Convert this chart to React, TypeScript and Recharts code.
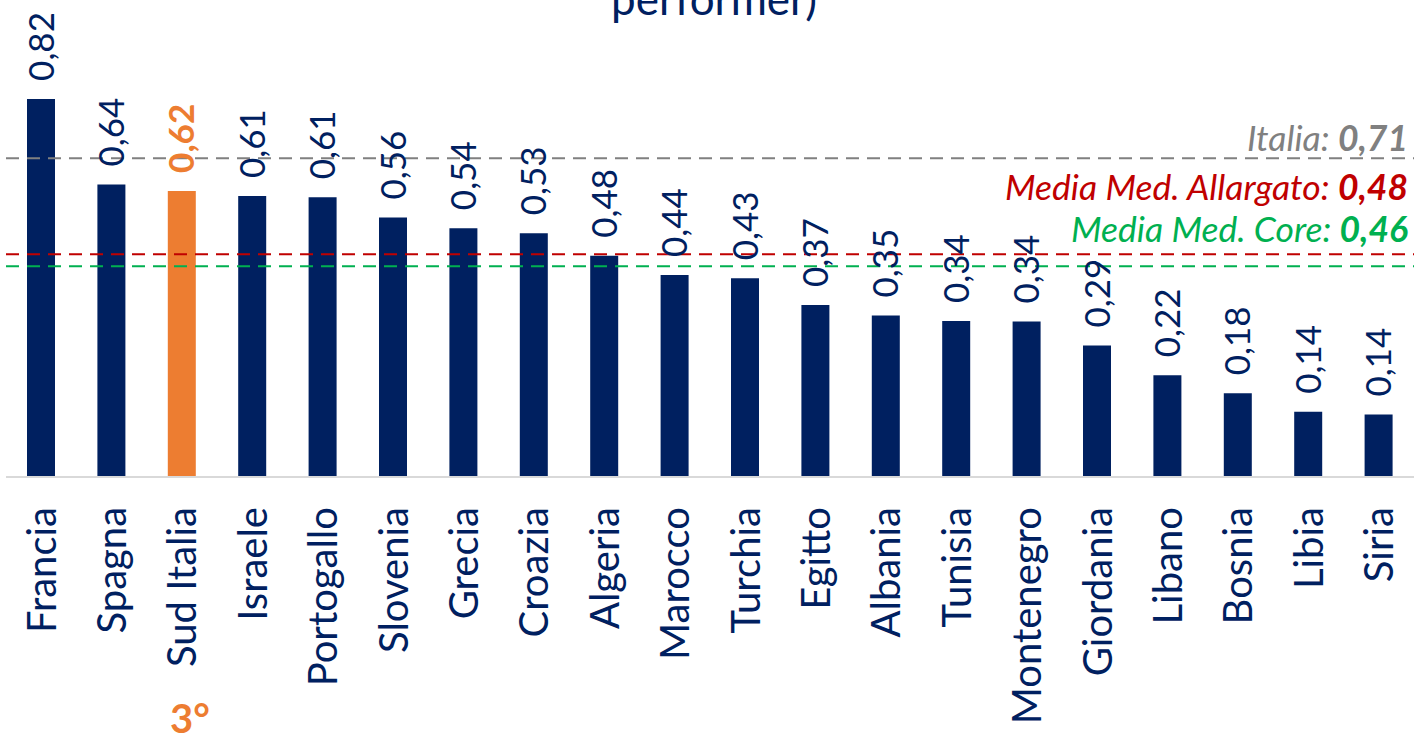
import { Bar, BarChart, Cell, LabelList, ReferenceLine, XAxis, YAxis } from 'recharts';

const categories = [
  'Francia', 'Spagna', 'Sud Italia', 'Israele', 'Portogallo', 'Slovenia', 'Grecia',
  'Croazia', 'Algeria', 'Marocco', 'Turchia', 'Egitto', 'Albania', 'Tunisia',
  'Montenegro', 'Giordania', 'Libano', 'Bosnia', 'Libia', 'Siria',
];
const values = [
  0.822, 0.636, 0.622, 0.611, 0.608, 0.564, 0.541, 0.53, 0.481, 0.439,
  0.432, 0.374, 0.351, 0.339, 0.338, 0.286, 0.221, 0.182, 0.142, 0.136,
];

// reference lines: where the line sits, and the value printed in its label
const refNames = ['Italia', 'Media Med. Allargato', 'Media Med. Core'];
const refValues = [0.693, 0.484, 0.458];
const refLabels = ['0,71', '0,48', '0,46'];

const highlight = 'Sud Italia';
const highlightRank = '3°';

const NAVY = '#002060';
const ORANGE = '#ed7d31';
const REF_COLORS = ['#808080', '#c00000', '#00b050'];
const REF_LABEL_DY = [-7, -54, -24];
const FONT = 'Lato, "Open Sans", sans-serif';

const data = categories.map((name, i) => ({ name, value: values[i] }));

const fmt = (v: number) => v.toFixed(2).replace('.', ',');

function CategoryTick(props: any) {
  const { x, y, payload } = props;
  const ty = y + 30;
  const isHi = payload.value === highlight;
  return (
    <g>
      <text
        x={x}
        y={ty}
        transform={`rotate(-90, ${x}, ${ty})`}
        textAnchor="end"
        dy="0.36em"
        fill={NAVY}
        fontSize={40}
        fontFamily={FONT}
      >
        {payload.value}
      </text>
      {isHi && (
        <text x={x + 8} y={733} textAnchor="middle" fill={ORANGE} fontSize={40} fontWeight={700} fontFamily={FONT}>
          {highlightRank}
        </text>
      )}
    </g>
  );
}

function ValueLabel(props: any) {
  const { x, y, width, value, index } = props;
  const cx = x + width / 2;
  const ty = y - 18;
  const isHi = categories[index] === highlight;
  return (
    <text
      x={cx}
      y={ty}
      transform={`rotate(-90, ${cx}, ${ty})`}
      textAnchor="start"
      dy="0.36em"
      fill={isHi ? ORANGE : NAVY}
      fontWeight={isHi ? 700 : 400}
      fontSize={35}
      fontFamily={FONT}
    >
      {fmt(value)}
    </text>
  );
}

function refLabel(i: number) {
  return (props: any) => {
    const { viewBox } = props;
    const right = viewBox.x + viewBox.width - 6;
    return (
      <text
        x={right}
        y={viewBox.y + REF_LABEL_DY[i]}
        textAnchor="end"
        fill={REF_COLORS[i]}
        fontSize={35.5}
        fontStyle="italic"
        fontFamily={FONT}
      >
        {refNames[i]}:{' '}
        <tspan fontWeight={700}>{refLabels[i]}</tspan>
      </text>
    );
  };
}

export default function App() {
  return (
    <div style={{ position: 'absolute', left: 0, top: 0, width: 1416, height: 737, background: '#fff' }}>
      <BarChart width={1416} height={737} data={data} margin={{ top: 17, right: 2, left: 6, bottom: 0 }}>
        <XAxis
          dataKey="name"
          height={260}
          interval={0}
          tickLine={false}
          tickSize={0}
          tickMargin={0}
          axisLine={{ stroke: '#d9d9d9', strokeWidth: 2 }}
          tick={<CategoryTick />}
        />
        <YAxis hide domain={[0, 1]} />
        {refValues.map((v, i) => (
          <ReferenceLine
            key={refNames[i]}
            y={v}
            stroke={REF_COLORS[i]}
            strokeWidth={2}
            strokeDasharray="13 8"
            label={refLabel(i)}
          />
        ))}
        <Bar dataKey="value" barSize={28} isAnimationActive={false}>
          {data.map((d) => (
            <Cell key={d.name} fill={d.name === highlight ? ORANGE : NAVY} />
          ))}
          <LabelList dataKey="value" content={<ValueLabel />} />
        </Bar>
      </BarChart>
      <svg width={1416} height={60} style={{ position: 'absolute', left: 0, top: 0, pointerEvents: 'none' }}>
        <text x={714} y={15} textAnchor="middle" fill={NAVY} fontSize={44} fontFamily={FONT}>
          performer)
        </text>
      </svg>
    </div>
  );
}
